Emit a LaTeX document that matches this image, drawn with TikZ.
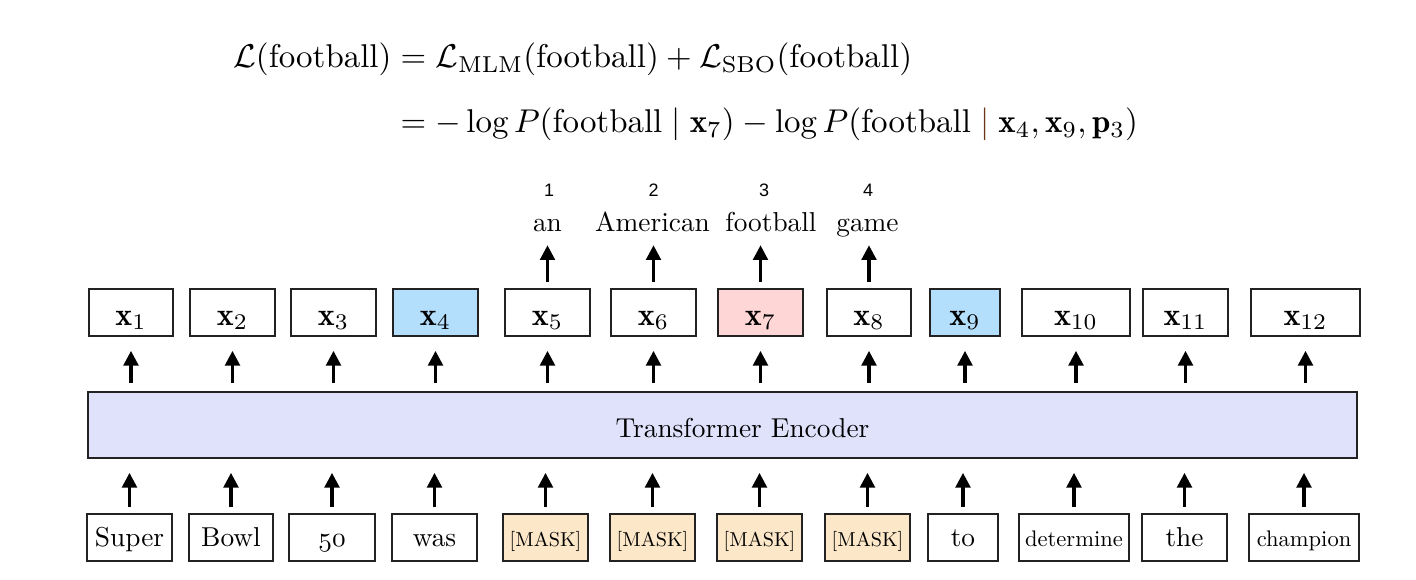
\RequirePackage{fix-cm}
\documentclass[tikz,border=0pt]{standalone}
\usepackage{amsmath}
\usepackage{graphicx}
\usepackage{fontspec}
\newfontfamily\numfont{Liberation Sans}
\usetikzlibrary{arrows.meta}
\definecolor{boxline}{HTML}{222222}
\definecolor{bluefill}{HTML}{B3DEFC}
\definecolor{redfill}{HTML}{FFD6D6}
\definecolor{maskfill}{HTML}{FCE8C9}
\definecolor{encfill}{HTML}{E0E2FC}
\definecolor{barcol}{HTML}{6B3414}
\newcommand{\EQ}[1]{\scalebox{2.47}{#1}}
\newcommand{\XL}[1]{\scalebox{2.4}{#1}}
\newcommand{\WD}[1]{\scalebox{2.05}{#1}}
\newcommand{\WS}[1]{\scalebox{1.69}{#1}}
\newcommand{\WM}[1]{\scalebox{1.51}{#1}}
\begin{document}
\begin{tikzpicture}[x=0.75pt,y=-0.75pt,
  font=\fontsize{10}{12}\selectfont,
  xbox/.style={draw=boxline, line width=1.3pt, minimum height=35.25pt, inner sep=0pt,
    text height=18.8pt, text depth=0pt},
  wbox/.style={draw=boxline, line width=1.3pt, minimum height=35.25pt, inner sep=0pt,
    text height=14.2pt, text depth=0pt},
  maskw/.style={fill=maskfill},
  wlbl/.style={anchor=base, inner sep=0pt, text depth=0pt},
  numlbl/.style={anchor=base, inner sep=0pt, font=\numfont\fontsize{13.5}{15}\selectfont},
  arr/.style={line width=2.3pt, -{Triangle[length=11pt,width=11pt]}},
  eqn/.style={anchor=base west, inner sep=0pt}]
\useasboundingbox (0,0) rectangle (1416,580);

% equation
\node[eqn] (eq1) at (233,68) {\EQ{$\mathcal{L}(\text{football}) = \mathcal{L}_{\mathrm{MLM}}(\text{football}) + \mathcal{L}_{\mathrm{SBO}}(\text{football})$}};
\node[eqn] (eq2) at (233,133) {\EQ{$\phantom{\mathcal{L}(\text{football})} = -\log P(\text{football} \mid \mathbf{x}_7) - \log P(\text{football} \mathrel{\color{barcol}\mid} \mathbf{x}_4, \mathbf{x}_9, \mathbf{p}_3)$}};

% output boxes
\node[xbox, minimum width=63pt] (x1) at (131,312.5) {\XL{$\mathbf{x}_1$}};
\node[xbox, minimum width=63.75pt] (x2) at (232.5,312.5) {\XL{$\mathbf{x}_2$}};
\node[xbox, minimum width=63.75pt] (x3) at (333.5,312.5) {\XL{$\mathbf{x}_3$}};
\node[xbox, minimum width=63.75pt, fill=bluefill] (x4) at (435.5,312.5) {\XL{$\mathbf{x}_4$}};
\node[xbox, minimum width=63.75pt] (x5) at (547.5,312.5) {\XL{$\mathbf{x}_5$}};
\node[xbox, minimum width=63.75pt] (x6) at (653.5,312.5) {\XL{$\mathbf{x}_6$}};
\node[xbox, minimum width=63.75pt, fill=redfill] (x7) at (760.5,312.5) {\XL{$\mathbf{x}_7$}};
\node[xbox, minimum width=63pt] (x8) at (869,312.5) {\XL{$\mathbf{x}_8$}};
\node[xbox, minimum width=52.5pt, fill=bluefill] (x9) at (965,312.5) {\XL{$\mathbf{x}_9$}};
\node[xbox, minimum width=81pt] (x10) at (1076,312.5) {\XL{$\mathbf{x}_{10}$}};
\node[xbox, minimum width=63.75pt] (x11) at (1185.5,312.5) {\XL{$\mathbf{x}_{11}$}};
\node[xbox, minimum width=81.75pt] (x12) at (1305.5,312.5) {\XL{$\mathbf{x}_{12}$}};

% predicted words
\node[wlbl] (l5) at (547.5,232) {\WD{an}};
\node[wlbl] (l6) at (652.5,232) {\WD{American}};
\node[wlbl] (l7) at (771,232) {\WD{football}};
\node[wlbl] (l8) at (867.5,232) {\WD{game}};
\node[numlbl] (n5) at (549,197) {1};
\node[numlbl] (n6) at (653.5,197) {2};
\node[numlbl] (n7) at (764,197) {3};
\node[numlbl] (n8) at (868,197) {4};
\foreach \i in {5,...,8}{
  \draw[arr, shorten <=4.5pt, shorten >=9.75pt] (x\i.north) -- (x\i.north |- l\i.south);
}

% encoder
\node[draw=boxline, fill=encfill, line width=1.3pt, minimum width=951.75pt, minimum height=49.5pt, inner sep=0pt] (enc) at (722.5,425) {};
\node[anchor=base, inner sep=0pt] (enct) at (742.5,437) {\WD{Transformer Encoder}};

% input boxes
\node[wbox, minimum width=63.75pt] (w1) at (129.5,537.5) {\WD{Super}};
\node[wbox, minimum width=63pt] (w2) at (231,537.5) {\WD{Bowl}};
\node[wbox, minimum width=64.5pt] (w3) at (332,537.5) {\WD{\usefont{OML}{cmm}{m}{it}50}};
\node[wbox, minimum width=63.75pt] (w4) at (434.5,537.5) {\WD{was}};
\node[wbox, maskw, minimum width=63.75pt] (w5) at (545.5,537.5) {\WM{[MASK]}};
\node[wbox, maskw, minimum width=63.75pt] (w6) at (652.5,537.5) {\WM{[MASK]}};
\node[wbox, maskw, minimum width=63.75pt] (w7) at (759.5,537.5) {\WM{[MASK]}};
\node[wbox, maskw, minimum width=63.75pt] (w8) at (867.5,537.5) {\WM{[MASK]}};
\node[wbox, minimum width=52.5pt] (w9) at (963,537.5) {\WD{to}};
\node[wbox, minimum width=82.5pt] (w10) at (1074,537.5) {\WS{determine}};
\node[wbox, minimum width=63.75pt] (w11) at (1184.5,537.5) {\WD{the}};
\node[wbox, minimum width=82.5pt] (w12) at (1304,537.5) {\WS{champion}};

\foreach \i in {1,...,12}{
  \draw[arr, shorten <=6pt, shorten >=10.5pt] (enc.north -| x\i.south) -- (x\i.south);
  \draw[arr, shorten <=4.5pt, shorten >=10.5pt] (w\i.north) -- (w\i.north |- enc.south);
}
\end{tikzpicture}
\end{document}
